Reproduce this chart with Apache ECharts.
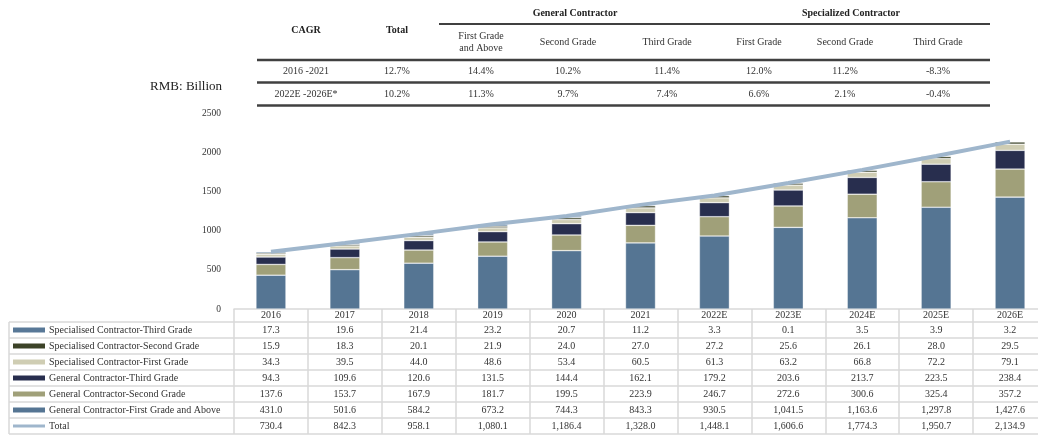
<!DOCTYPE html>
<html>
<head>
<meta charset="utf-8">
<script src="https://cdn.jsdelivr.net/npm/echarts@6/dist/echarts.min.js"></script>
<style>
  html, body { margin: 0; padding: 0; background: #fff; }
  #chart { width: 1038px; height: 436px; }
</style>
</head>
<body>
<div id="chart"></div>
<script>
const years = ['2016', '2017', '2018', '2019', '2020', '2021', '2022E', '2023E', '2024E', '2025E', '2026E']
const gcFirst = [431.0, 501.6, 584.2, 673.2, 744.3, 843.3, 930.5, 1041.5, 1163.6, 1297.8, 1427.6]
const gcSecond = [137.6, 153.7, 167.9, 181.7, 199.5, 223.9, 246.7, 272.6, 300.6, 325.4, 357.2]
const gcThird = [94.3, 109.6, 120.6, 131.5, 144.4, 162.1, 179.2, 203.6, 213.7, 223.5, 238.4]
const scFirst = [34.3, 39.5, 44.0, 48.6, 53.4, 60.5, 61.3, 63.2, 66.8, 72.2, 79.1]
const scSecond = [15.9, 18.3, 20.1, 21.9, 24.0, 27.0, 27.2, 25.6, 26.1, 28.0, 29.5]
const scThird = [17.3, 19.6, 21.4, 23.2, 20.7, 11.2, 3.3, 0.1, 3.5, 3.9, 3.2]
const total = [730.4, 842.3, 958.1, 1080.1, 1186.4, 1328.0, 1448.1, 1606.6, 1774.3, 1950.7, 2134.9]

// CAGR table
const cagrGroups = ['General Contractor', 'Specialized Contractor']
const cagrCols = ['CAGR', 'Total', 'First Grade\nand Above', 'Second Grade', 'Third Grade', 'First Grade', 'Second Grade', 'Third Grade']
const cagrPeriods = ['2016 -2021', '2022E -2026E*']
const cagrFirst = ['12.7%', '14.4%', '10.2%', '11.4%', '12.0%', '11.2%', '-8.3%']
const cagrSecond = ['10.2%', '11.3%', '9.7%', '7.4%', '6.6%', '2.1%', '-0.4%']

const SERIF = '"Liberation Serif", "Times New Roman", serif'
const GRID_LINE = '#d9d9d9'
const DARK_LINE = '#404040'
const TOTAL_COLOR = '#9fb6cc'

const rows = [
  { name: 'Specialised Contractor-Third Grade', data: scThird, color: '#587897' },
  { name: 'Specialised Contractor-Second Grade', data: scSecond, color: '#3c4328' },
  { name: 'Specialised Contractor-First Grade', data: scFirst, color: '#cfcdb3' },
  { name: 'General Contractor-Third Grade', data: gcThird, color: '#282e4e' },
  { name: 'General Contractor-Second Grade', data: gcSecond, color: '#a0a079' },
  { name: 'General Contractor-First Grade and Above', data: gcFirst, color: '#557593' }
]

const fmt = v => v.toLocaleString('en-US', { minimumFractionDigits: 1, maximumFractionDigits: 1 })

const chart = echarts.init(document.getElementById('chart'))

// bars stacked bottom-up: general first grade first
const barSeries = rows.slice().reverse().map(item => ({
  name: item.name,
  type: 'bar',
  stack: 'all',
  barWidth: 30,
  data: item.data,
  itemStyle: { color: item.color, borderColor: 'rgba(255,255,255,0.6)', borderWidth: 0.6 }
}))

const lineSeries = {
  name: 'Total',
  type: 'line',
  data: total,
  symbol: 'none',
  z: 5,
  lineStyle: { color: TOTAL_COLOR, width: 4 },
  itemStyle: { color: TOTAL_COLOR }
}

// row axes of the data table, one per line, under the years axis
const tableRows = rows.map(r => r.data.map(fmt)).concat([total.map(fmt)])
const rowAxes = tableRows.map((vals, i) => ({
  type: 'category',
  gridIndex: 0,
  position: 'bottom',
  offset: 21 + i * 16,
  data: vals,
  axisLine: { show: false },
  axisTick: { show: false },
  axisLabel: {
    interval: 0,
    margin: 0,
    verticalAlign: 'middle',
    fontFamily: SERIF,
    fontSize: 10,
    color: '#333'
  }
}))

const graphics = []
const txt = (x, y, text, opt = {}) => {
  graphics.push({
    type: 'text',
    x: x,
    y: y,
    silent: true,
    style: Object.assign({
      text: text,
      align: 'center',
      verticalAlign: 'middle',
      font: '10px ' + SERIF,
      fill: '#333'
    }, opt)
  })
}
const line = (x1, y1, x2, y2, stroke, w) => {
  graphics.push({
    type: 'line',
    silent: true,
    shape: { x1: x1, y1: y1, x2: x2, y2: y2 },
    style: { stroke: stroke, lineWidth: w }
  })
}

// CAGR table
const colX = [306, 397, 481, 568, 667, 759, 845, 938]
line(439, 24, 990, 24, DARK_LINE, 2)
line(257, 60, 990, 60, DARK_LINE, 2.5)
line(257, 82.5, 990, 82.5, DARK_LINE, 2.5)
line(257, 105.5, 990, 105.5, DARK_LINE, 2.5)
txt(575, 13, cagrGroups[0], { font: 'bold 10px ' + SERIF, fill: '#222' })
txt(851, 13, cagrGroups[1], { font: 'bold 10px ' + SERIF, fill: '#222' })
cagrCols.forEach((c, i) => {
  if (i < 2) {
    txt(colX[i], 30, c, { font: 'bold 10px ' + SERIF, fill: '#222' })
  } else {
    txt(colX[i], 42, c, { lineHeight: 12 })
  }
})
txt(colX[0], 71, cagrPeriods[0])
txt(colX[0], 94, cagrPeriods[1])
cagrFirst.forEach((v, i) => txt(colX[i + 1], 71, v))
cagrSecond.forEach((v, i) => txt(colX[i + 1], 94, v))

// unit label
txt(222, 87, 'RMB: Billion', { align: 'right', font: '13px ' + SERIF, fill: '#222' })

// data table frame
for (let k = 0; k <= 7; k++) {
  line(9, 322 + k * 16, 1038, 322 + k * 16, GRID_LINE, 1.5)
}
line(9, 322, 9, 434, GRID_LINE, 1.5)

chart.setOption({
  animation: false,
  grid: {
    left: 234,
    top: 113,
    width: 813,
    height: 196,
    outerBoundsMode: 'none'
  },
  legend: {
    orient: 'vertical',
    left: 13,
    top: 322,
    padding: 0,
    itemGap: 0,
    itemWidth: 32,
    itemHeight: 5,
    selectedMode: false,
    itemStyle: { borderWidth: 0 },
    textStyle: { fontFamily: SERIF, fontSize: 10, color: '#333', lineHeight: 16, padding: [0, 0, 0, -1] },
    data: rows.map(r => ({ name: r.name, icon: 'rect' })).concat([{
      name: 'Total',
      icon: 'path://M0,0L32,0L32,3L0,3Z',
      itemStyle: { color: TOTAL_COLOR, borderWidth: 0 }
    }])
  },
  xAxis: [{
    type: 'category',
    gridIndex: 0,
    position: 'bottom',
    data: years,
    axisLine: { lineStyle: { color: GRID_LINE, width: 1.5 } },
    axisTick: { show: true, interval: 0, length: 125, lineStyle: { color: GRID_LINE, width: 1.5 } },
    axisLabel: {
      interval: 0,
      margin: 6.5,
      verticalAlign: 'middle',
      fontFamily: SERIF,
      fontSize: 10,
      color: '#333'
    }
  }].concat(rowAxes),
  yAxis: {
    type: 'value',
    min: 0,
    max: 2500,
    interval: 500,
    axisLine: { show: false },
    axisTick: { show: false },
    splitLine: { show: false },
    axisLabel: {
      margin: 13,
      fontFamily: SERIF,
      fontSize: 9.5,
      color: '#333',
      formatter: v => String(v)
    }
  },
  graphic: graphics,
  series: barSeries.concat([lineSeries])
})
</script>
</body>
</html>
